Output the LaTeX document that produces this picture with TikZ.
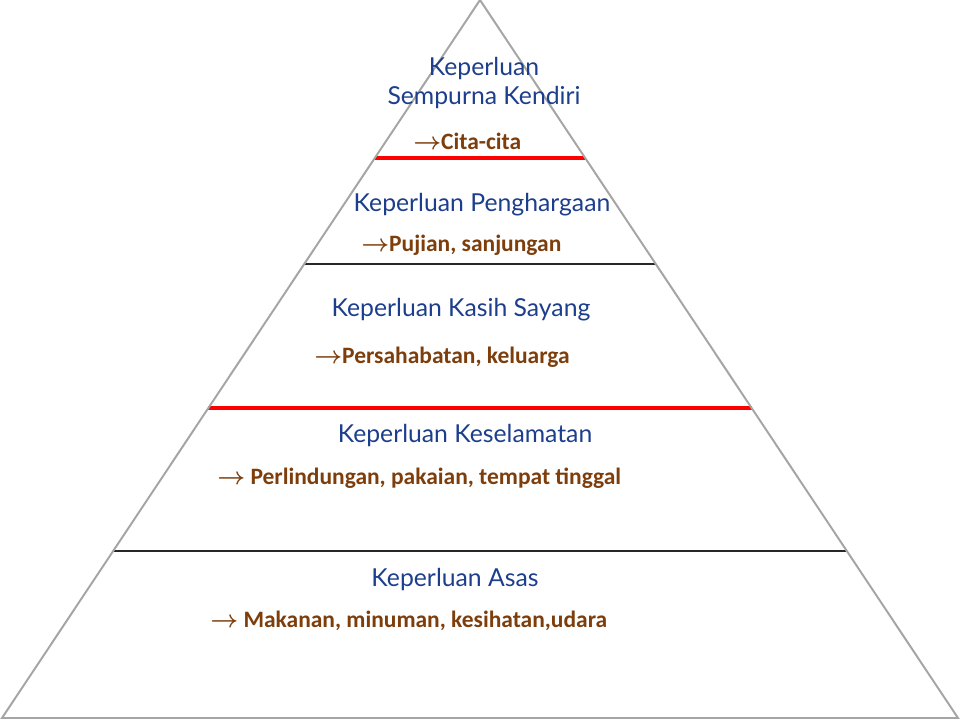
\documentclass[tikz,border=0pt]{standalone}
\usepackage{amsmath,amssymb}
\usepackage{fontspec}
\setmainfont{Lato}
\newfontfamily\labelfont{Carlito}
\usetikzlibrary{calc}
\definecolor{levelblue}{RGB}{28,62,140}
\definecolor{itembrown}{RGB}{125,62,12}
\definecolor{edgegray}{RGB}{165,165,165}

\begin{document}
\begin{tikzpicture}[x=0.025cm, y=-0.025cm,
    every node/.style={inner sep=0pt},
    levelname/.style={text=levelblue, font=\fontsize{17.6}{20.5}\selectfont, align=center},
    itemtext/.style={text=itembrown, font=\labelfont\bfseries\fontsize{16.7}{20}\selectfont, anchor=west},
    redcut/.style={draw=red, line width=2.6pt},
    darkcut/.style={draw=black!85, line width=1.5pt}]
  \useasboundingbox (0,0) rectangle (960,720);

  \coordinate (apex) at (480,0);
  \coordinate (bl) at (2,718);
  \coordinate (br) at (958,718);

  % level boundaries
  \draw[redcut]  ($(apex)!0.2201!(bl)$) -- ($(apex)!0.2201!(br)$);
  \draw[darkcut] ($(apex)!0.3677!(bl)$) -- ($(apex)!0.3677!(br)$);
  \draw[redcut]  ($(apex)!0.5682!(bl)$) -- ($(apex)!0.5682!(br)$);
  \draw[darkcut] ($(apex)!0.7674!(bl)$) -- ($(apex)!0.7674!(br)$);

  \draw[edgegray, line width=1.4pt, line join=miter] (apex) -- (bl) -- (br) -- cycle;

  \node[levelname] (l5) at (484,83) {Keperluan\\Sempurna Kendiri};
  \node[itemtext]  (i5) at (413,141) {$\boldsymbol{\rightarrow}$Cita-cita};

  \node[levelname] (l4) at (482,205) {Keperluan Penghargaan};
  \node[itemtext]  (i4) at (361,245) {$\boldsymbol{\rightarrow}$Pujian, sanjungan};

  \node[levelname] (l3) at (461,310) {Keperluan Kasih Sayang};
  \node[itemtext]  (i3) at (314,357) {$\boldsymbol{\rightarrow}$Persahabatan, keluarga};

  \node[levelname] (l2) at (465,436) {Keperluan Keselamatan};
  \node[itemtext]  (i2) at (217,478) {$\boldsymbol{\rightarrow}$ Perlindungan, pakaian, tempat tinggal};

  \node[levelname] (l1) at (455,580) {Keperluan Asas};
  \node[itemtext]  (i1) at (210,621) {$\boldsymbol{\rightarrow}$ Makanan, minuman, kesihatan,udara};
\end{tikzpicture}
\end{document}
